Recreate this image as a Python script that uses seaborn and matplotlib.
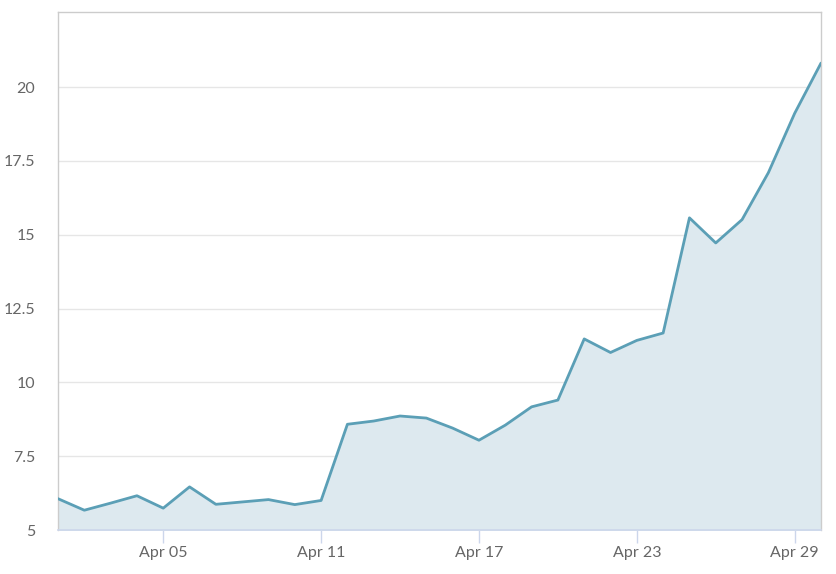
import pandas as pd
import seaborn as sns
import matplotlib.pyplot as plt
import matplotlib.dates as mdates
from matplotlib.ticker import FuncFormatter

dates = pd.date_range('2024-04-01', '2024-04-30', freq='D')
values = [6.06, 5.67, 5.91, 6.16, 5.74, 6.46, 5.87, 5.95, 6.03, 5.86,
          6.00, 8.58, 8.69, 8.86, 8.79, 8.45, 8.04, 8.55, 9.17, 9.40,
          11.47, 11.01, 11.42, 11.67, 15.57, 14.72, 15.51, 17.10, 19.11, 20.81]
y_ticks = [5, 7.5, 10, 12.5, 15, 17.5, 20]
x_ticks = ['2024-04-05', '2024-04-11', '2024-04-17', '2024-04-23', '2024-04-29']

df = pd.DataFrame({'date': dates, 'value': values})

sns.set_style('white')
plt.rcParams['font.family'] = ['Lato', 'DejaVu Sans']

fig = plt.figure(figsize=(8.37, 5.74), dpi=100)
ax = fig.add_axes([58 / 837, 44 / 574, 763 / 837, 518 / 574])

line_color = '#5b9fb6'
ax.fill_between(df['date'], df['value'], 5, color='#dde9ef', zorder=1)
sns.lineplot(data=df, x='date', y='value', ax=ax, color=line_color, linewidth=2.0, zorder=3)

ax.set_xlim(dates[0], dates[-1])
ax.set_ylim(5, 22.54)
ax.set_yticks(y_ticks)
ax.yaxis.set_major_formatter(FuncFormatter(lambda v, p: f'{v:g}'))
ax.set_xticks(pd.to_datetime(x_ticks))
ax.xaxis.set_major_formatter(mdates.DateFormatter('%b %d'))

ax.grid(axis='y', color='#e6e6e6', linewidth=1)
ax.set_axisbelow(True)
ax.set_xlabel('')
ax.set_ylabel('')

for side in ['top', 'right', 'left']:
    ax.spines[side].set_color('#cccccc')
    ax.spines[side].set_linewidth(1)
ax.spines['bottom'].set_color('#ccd6eb')
ax.spines['bottom'].set_linewidth(1.2)

ax.tick_params(axis='x', length=9.5, width=1, color='#ccd6eb',
               labelcolor='#666666', labelsize=11.5, pad=2, bottom=True)
ax.tick_params(axis='y', length=0, labelcolor='#666666', labelsize=11.5, pad=16.5)

fig.savefig('out.png', dpi=100)
